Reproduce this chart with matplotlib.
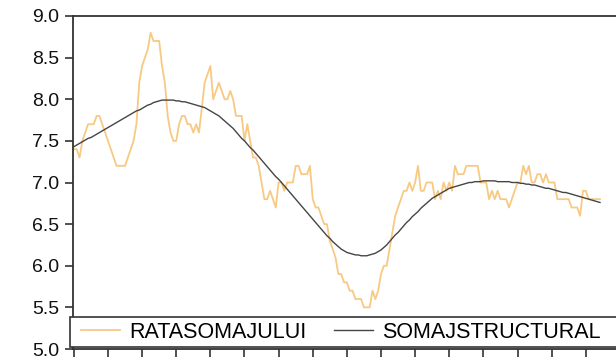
import matplotlib
matplotlib.use("Agg")
import matplotlib.pyplot as plt
from matplotlib.patches import Rectangle
from matplotlib.lines import Line2D

plt.rcParams['font.family'] = ['Liberation Sans', 'DejaVu Sans']

# monthly unemployment rate (%), 186 observations
rata_somajului = [
    7.4, 7.4, 7.3, 7.5, 7.6, 7.7, 7.7, 7.7, 7.8, 7.8, 7.7, 7.6,
    7.5, 7.4, 7.3, 7.2, 7.2, 7.2, 7.2, 7.3, 7.4, 7.5, 7.7, 8.2,
    8.4, 8.5, 8.6, 8.8, 8.7, 8.7, 8.7, 8.4, 8.2, 7.8, 7.6, 7.5,
    7.5, 7.7, 7.8, 7.8, 7.7, 7.7, 7.6, 7.7, 7.6, 7.9, 8.2, 8.3,
    8.4, 8.0, 8.1, 8.2, 8.1, 8.0, 8.0, 8.1, 8.0, 7.8, 7.8, 7.8,
    7.5, 7.7, 7.5, 7.3, 7.3, 7.2, 7.0, 6.8, 6.8, 6.9, 6.8, 6.7,
    7.0, 7.0, 6.9, 7.0, 7.0, 7.0, 7.2, 7.2, 7.1, 7.1, 7.1, 7.2,
    6.8, 6.7, 6.7, 6.6, 6.5, 6.5, 6.3, 6.2, 6.1, 5.9, 5.9, 5.8,
    5.8, 5.7, 5.7, 5.6, 5.6, 5.6, 5.5, 5.5, 5.5, 5.7, 5.6, 5.7,
    5.9, 6.0, 6.0, 6.2, 6.4, 6.6, 6.7, 6.8, 6.9, 6.9, 7.0, 6.9,
    7.0, 7.2, 6.9, 6.9, 7.0, 7.0, 7.0, 6.8, 6.9, 6.8, 7.0, 6.9,
    7.0, 6.9, 7.2, 7.1, 7.1, 7.1, 7.2, 7.2, 7.2, 7.2, 7.2, 7.0,
    7.0, 7.0, 6.8, 6.9, 6.8, 6.9, 6.8, 6.8, 6.8, 6.7, 6.8, 6.9,
    7.0, 7.0, 7.2, 7.1, 7.2, 7.0, 7.0, 7.1, 7.1, 7.0, 7.1, 7.0,
    7.0, 7.0, 6.8, 6.8, 6.8, 6.8, 6.8, 6.7, 6.7, 6.7, 6.6, 6.9,
    6.9, 6.8, 6.8, 6.8, 6.8, 6.8,
]

# filtered (structural) component
somaj_structural = [
    7.43, 7.45, 7.47, 7.49, 7.51, 7.53, 7.54, 7.56, 7.58, 7.60, 7.62, 7.64,
    7.66, 7.68, 7.70, 7.72, 7.74, 7.76, 7.78, 7.80, 7.82, 7.84, 7.86, 7.87,
    7.89, 7.91, 7.93, 7.94, 7.96, 7.97, 7.98, 7.99, 7.99, 7.99, 7.99, 7.99,
    7.98, 7.98, 7.97, 7.97, 7.96, 7.95, 7.94, 7.93, 7.92, 7.91, 7.90, 7.88,
    7.86, 7.84, 7.82, 7.80, 7.77, 7.74, 7.71, 7.68, 7.65, 7.61, 7.57, 7.53,
    7.50, 7.46, 7.42, 7.39, 7.35, 7.31, 7.27, 7.23, 7.19, 7.15, 7.11, 7.07,
    7.04, 7.00, 6.96, 6.92, 6.88, 6.84, 6.80, 6.76, 6.72, 6.68, 6.64, 6.60,
    6.56, 6.52, 6.48, 6.44, 6.40, 6.36, 6.33, 6.29, 6.26, 6.23, 6.20, 6.18,
    6.16, 6.15, 6.14, 6.13, 6.13, 6.12, 6.12, 6.12, 6.13, 6.14, 6.15, 6.17,
    6.19, 6.22, 6.25, 6.29, 6.33, 6.37, 6.40, 6.44, 6.48, 6.52, 6.55, 6.59,
    6.62, 6.65, 6.69, 6.72, 6.75, 6.78, 6.81, 6.83, 6.85, 6.87, 6.89, 6.91,
    6.93, 6.94, 6.95, 6.96, 6.97, 6.98, 6.99, 7.00, 7.00, 7.01, 7.01, 7.01,
    7.02, 7.02, 7.02, 7.02, 7.02, 7.01, 7.01, 7.01, 7.01, 7.01, 7.00, 7.00,
    7.00, 6.99, 6.99, 6.98, 6.98, 6.97, 6.97, 6.96, 6.95, 6.94, 6.93, 6.93,
    6.92, 6.91, 6.90, 6.89, 6.88, 6.88, 6.87, 6.86, 6.85, 6.84, 6.83, 6.82,
    6.81, 6.80, 6.79, 6.78, 6.77, 6.76,
]

series_names = ['RATASOMAJULUI', 'SOMAJSTRUCTURAL']
y_ticks = [5.0, 5.5, 6.0, 6.5, 7.0, 7.5, 8.0, 8.5, 9.0]

W, H = 616, 364
fig = plt.figure(figsize=(W / 100, H / 100), dpi=100)
ax = fig.add_axes([73 / W, 15 / H, 547 / W, 333 / H])

months = list(range(len(rata_somajului)))
orange = '#F7C983'
dark = '#454545'
ax.plot(months, rata_somajului, color=orange, lw=1.3)
ax.plot(months, somaj_structural, color=dark, lw=1.0)

ax.set_xlim(-0.3, -0.3 + 547 / 2.844)
ax.set_ylim(5.0, 9.0)
ax.set_yticks(y_ticks)
ax.set_yticklabels([f'{v:.1f}' for v in y_ticks])
ax.set_xticks(months[::12])
ax.set_xticklabels([])

for side in ['left', 'top', 'bottom']:
    ax.spines[side].set_color('#333333')
    ax.spines[side].set_linewidth(1.3)
ax.spines['right'].set_visible(False)
ax.tick_params(axis='y', direction='out', length=6, width=1.1,
               color='#222222', labelsize=14, pad=4, labelcolor='#111111')
ax.tick_params(axis='x', direction='out', length=6, width=1.1, color='#222222')

# legend box along the bottom of the plot
fig.add_artist(Rectangle((70 / W, 17.3 / H), 600 / W, 30 / H,
                         transform=fig.transFigure, facecolor='white',
                         edgecolor='#333333', lw=1.2, clip_on=False))
handles = [Line2D([], [], color=orange, lw=1.3),
           Line2D([], [], color=dark, lw=1.0)]
fig.legend(handles, series_names, loc='center left',
           bbox_to_anchor=(81 / W, 32 / H), frameon=False, ncol=2,
           fontsize=15.5, handlelength=1.8, handletextpad=0.42,
           columnspacing=1.3, borderpad=0, borderaxespad=0)

fig.savefig('out.png', dpi=100)
